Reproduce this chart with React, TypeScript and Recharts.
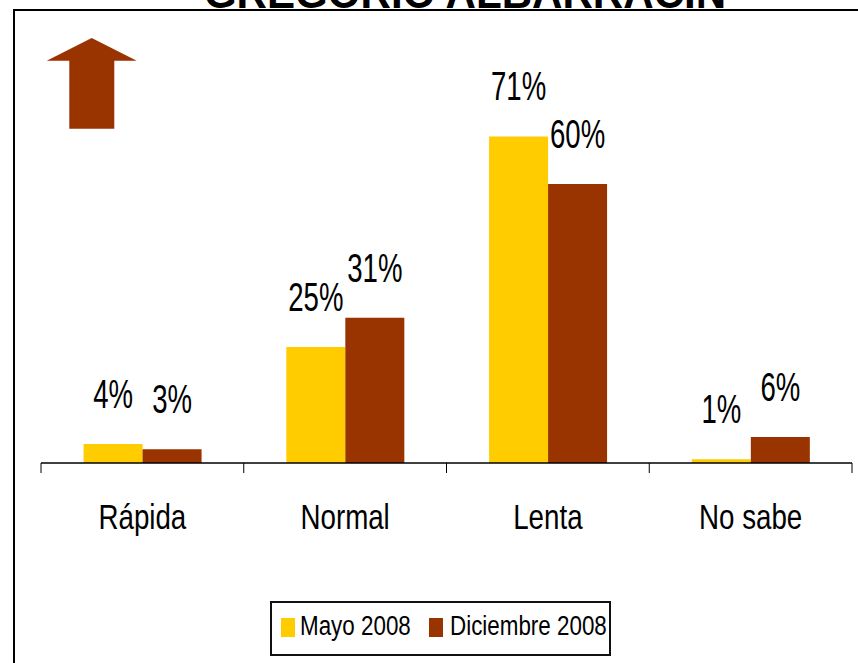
import { BarChart, Bar, XAxis, YAxis, Legend } from 'recharts';

const categories = ['Rápida', 'Normal', 'Lenta', 'No sabe'];
const mayo2008 = [4.1, 25.1, 70.6, 0.8];
const diciembre2008 = [3.0, 31.4, 60.3, 5.6];
const seriesNames = ['Mayo 2008', 'Diciembre 2008'];
const title = 'GREGORIO ALBARRACIN';

const FONT = '"Liberation Sans", Arial, sans-serif';
const YELLOW = '#FFCC00';
const BROWN = '#993300';

const data = categories.map((name, i) => ({
  name,
  mayo: mayo2008[i],
  dic: diciembre2008[i],
}));

function BarLabel(props: any) {
  const { x, y, width, value } = props;
  const cx = Number(x) + Number(width) / 2;
  const by = Number(y) - 36;
  return (
    <text
      transform={`translate(${cx},${by}) scale(0.69,1)`}
      textAnchor="middle"
      fontSize={40}
      fontFamily={FONT}
      fill="#000"
    >
      {Math.round(Number(value))}%
    </text>
  );
}

// category label plus tick marks on the band boundaries (Excel style)
function CategoryTick(props: any) {
  const { x, y, payload, index, visibleTicksCount } = props;
  const half = payload && payload.offset > 0 ? payload.offset : 101.4;
  const cx = Number(x);
  const ty = Number(y);
  const last = index === (visibleTicksCount ?? categories.length) - 1;
  return (
    <g>
      <line x1={cx - half} y1={ty} x2={cx - half} y2={ty + 10} stroke="#000" />
      {last && <line x1={cx + half} y1={ty} x2={cx + half} y2={ty + 10} stroke="#000" />}
      <text
        transform={`translate(${cx},${ty + 66}) scale(0.77,1)`}
        textAnchor="middle"
        fontSize={36}
        fontFamily={FONT}
        fill="#000"
      >
        {payload.value}
      </text>
    </g>
  );
}

function LegendBox(props: any) {
  const items = [...(props.payload ?? [])].sort(
    (a: any, b: any) => seriesNames.indexOf(a.value) - seriesNames.indexOf(b.value)
  );
  const pos = [
    { sq: 11, tx: 30 },
    { sq: 159, tx: 180 },
  ];
  return (
    <svg width={341} height={55} style={{ display: 'block' }}>
      <rect x={1} y={1} width={339} height={53} fill="#fff" stroke="#111" strokeWidth={2} />
      {items.map((it: any, i: number) => (
        <g key={it.value}>
          <rect x={pos[i].sq} y={17} width={14} height={19} fill={it.color} />
          <text
            transform={`translate(${pos[i].tx},34) scale(0.8,1)`}
            fontSize={28}
            fontFamily={FONT}
            fill="#000"
          >
            {it.value}
          </text>
        </g>
      ))}
    </svg>
  );
}

export default function App() {
  return (
    <div style={{ position: 'absolute', left: 0, top: 0, width: 858, height: 663, overflow: 'hidden', background: '#fff' }}>
      <svg width={858} height={663} style={{ position: 'absolute', left: 0, top: 0 }}>
        <path d="M14,663 L14,10 L858,10" fill="none" stroke="#000" strokeWidth={2} />
        <text
          transform="translate(465,8) scale(0.957,1)"
          textAnchor="middle"
          fontSize={44}
          fontWeight="bold"
          fontFamily={FONT}
          fill="#000"
        >
          {title}
        </text>
        <polygon
          points="91.7,38 136.7,60.7 114.3,60.7 114.3,128.7 69.3,128.7 69.3,60.7 46.7,60.7"
          fill={BROWN}
        />
      </svg>
      <div style={{ position: 'absolute', left: 0, top: 0 }}>
        <BarChart
          width={858}
          height={663}
          data={data}
          margin={{ top: 93, right: 6, left: 41, bottom: 199 }}
          barCategoryGap="21%"
          barGap={0}
        >
          <XAxis
            xAxisId="cat"
            dataKey="name"
            height={1}
            interval={0}
            tickLine={false}
            tickSize={0}
            tickMargin={0}
            axisLine={{ stroke: '#000', strokeWidth: 1.5 }}
            tick={CategoryTick}
          />
          <YAxis hide domain={[0, 80]} />
          <Legend
            verticalAlign="middle"
            layout="horizontal"
            align="center"
            content={LegendBox}
            wrapperStyle={{ left: 270, top: 601, width: 341, height: 55 }}
          />
          <Bar xAxisId="cat" dataKey="mayo" name={seriesNames[0]} fill={YELLOW} isAnimationActive={false} label={BarLabel} />
          <Bar xAxisId="cat" dataKey="dic" name={seriesNames[1]} fill={BROWN} isAnimationActive={false} label={BarLabel} />
        </BarChart>
      </div>
    </div>
  );
}
